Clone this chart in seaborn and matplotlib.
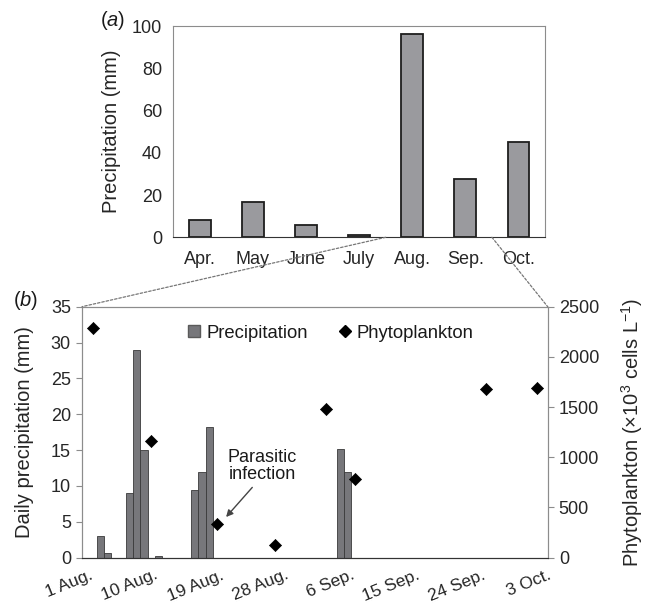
import pandas as pd
import numpy as np
import matplotlib
matplotlib.use("Agg")
import matplotlib.pyplot as plt
from matplotlib.patches import ConnectionPatch
from matplotlib.lines import Line2D
from matplotlib.transforms import ScaledTranslation
import seaborn as sns

# monthly precipitation (panel a)
months = ["Apr.", "May", "June", "July", "Aug.", "Sep.", "Oct."]
monthly_mm = [8.0, 16.9, 5.8, 0.9, 96.4, 27.4, 45.0]

# daily precipitation (panel b)
rain_dates = ["3 Aug", "4 Aug", "7 Aug", "8 Aug", "9 Aug", "11 Aug",
              "16 Aug", "17 Aug", "18 Aug", "5 Sep", "6 Sep"]
rain_mm = [3.0, 0.6, 9.0, 29.0, 15.0, 0.3, 9.4, 11.9, 18.2, 15.2, 12.0]

# phytoplankton density (x10^3 cells/L)
phyto_dates = ["2 Aug", "10 Aug", "19 Aug", "27 Aug", "3 Sep", "7 Sep",
               "25 Sep", "2 Oct"]
phyto_cells = [2290, 1160, 340, 126, 1480, 780, 1680, 1695]

tick_labels = ["1 Aug.", "10 Aug.", "19 Aug.", "28 Aug.", "6 Sep.",
               "15 Sep.", "24 Sep.", "3 Oct."]

start = pd.Timestamp("2010-08-01")
def day_offset(dates):
    return [(pd.Timestamp(d + " 2010") - start).days for d in dates]

rain = pd.DataFrame({"day": np.array(day_offset(rain_dates)) + 0.5, "mm": rain_mm})
phyto = pd.DataFrame({"day": np.array(day_offset(phyto_dates)) + 0.5, "cells": phyto_cells})
monthly = pd.DataFrame({"month": months, "mm": monthly_mm})

sns.set_style("white")
plt.rcParams["font.family"] = ["Liberation Sans", "DejaVu Sans"]
plt.rcParams["mathtext.fontset"] = "custom"
plt.rcParams["mathtext.rm"] = "Liberation Sans"
plt.rcParams["mathtext.it"] = "Liberation Sans:italic"
plt.rcParams["text.color"] = "#1a1a1a"

TICK = 13
LAB = 14.5

fig = plt.figure(figsize=(6.51, 6.05), dpi=100)
ax_a = fig.add_axes([0.2662, 0.6078, 0.5710, 0.3492])
ax_b = fig.add_axes([0.1260, 0.0782, 0.7153, 0.4149])

frame = "#8c8c8c"

# ---- panel (a)
sns.barplot(data=monthly, x="month", y="mm", ax=ax_a, color="#9a9a9e",
            edgecolor="#1e1e1e", linewidth=1.3, width=0.41, saturation=1)
ax_a.set_xlim(-0.5, 6.5)
ax_a.set_ylim(0, 100)
ax_a.set_yticks([0, 20, 40, 60, 80, 100])
ax_a.set_xlabel("")
ax_a.set_ylabel("Precipitation (mm)", fontsize=LAB, labelpad=8)
ax_a.set_xticks(np.arange(-0.5, 7, 1), minor=False)
ax_a.set_xticklabels([])
ax_a.set_xticks(np.arange(7), minor=True)
ax_a.set_xticklabels(months, minor=True)
ax_a.tick_params(axis="x", which="major", direction="inout", length=8, color=frame)
ax_a.tick_params(axis="x", which="minor", length=0, pad=10, labelsize=TICK)
ax_a.tick_params(axis="y", direction="out", length=4, color=frame, labelsize=TICK, pad=4)
for s in ["top", "right", "left"]:
    ax_a.spines[s].set_color(frame)
ax_a.spines["bottom"].set_color("#333333")

fig.text(0.153, 0.966, "($\\it{a}$)", fontsize=LAB, va="center", ha="left")

# ---- panel (b)
sns.barplot(data=rain, x="day", y="mm", ax=ax_b, native_scale=True, width=1,
            color="#77777b", edgecolor="#3a3a3a", linewidth=0.6, saturation=1)
ax_b.set_xlim(0, 64)
ax_b.set_ylim(0, 35)
ax_b.set_yticks(range(0, 36, 5))
ax_b.set_xlabel("")
ax_b.set_ylabel("Daily precipitation (mm)", fontsize=LAB, labelpad=12)
ax_b.set_xticks(range(0, 64, 9))
ax_b.set_xticklabels(tick_labels, rotation=22, ha="right", va="top",
                     rotation_mode="anchor")
ax_b.set_xticks(range(0, 65), minor=True)
ax_b.tick_params(axis="x", which="major", direction="out", length=5, color="#444444",
                 labelsize=12.5, pad=2)
ax_b.tick_params(axis="x", which="minor", direction="out", length=3, color="#666666")
ax_b.tick_params(axis="y", direction="out", length=4, color=frame, labelsize=TICK, pad=4)
shift = ScaledTranslation(0.07, 0, fig.dpi_scale_trans)
for lbl in ax_b.get_xticklabels():
    lbl.set_transform(lbl.get_transform() + shift)

ax_c = ax_b.twinx()
sns.scatterplot(data=phyto, x="day", y="cells", ax=ax_c, marker="D", color="black",
                s=38, edgecolor="black")
ax_c.set_ylim(0, 2500)
ax_c.set_yticks(range(0, 2501, 500))
ax_c.set_ylabel("Phytoplankton (\u00d710$^3$ cells L$^{-1}$)", fontsize=LAB, labelpad=14)
ax_c.tick_params(axis="y", direction="out", length=4, color=frame, labelsize=TICK, pad=4)
for a in (ax_b, ax_c):
    for s in ["top", "right", "left"]:
        a.spines[s].set_color(frame)
    a.spines["bottom"].set_color("#333333")

handles = [Line2D([], [], marker="s", color="#77777b", markeredgecolor="#5a5a5a",
                  linestyle="none", markersize=9),
           Line2D([], [], marker="D", color="black", linestyle="none", markersize=6)]
ax_c.legend(handles, ["Precipitation", "Phytoplankton"], loc="upper left",
            bbox_to_anchor=(0.191, 0.995), ncol=2, frameon=False, fontsize=13.3,
            handlelength=0.7, handletextpad=0.3, columnspacing=1.65)

ax_c.text(24.8, 915, "Parasitic\ninfection", ha="center", va="center", fontsize=13,
          linespacing=1.0)
ax_c.annotate("", xy=(19.8, 405), xytext=(23.4, 700),
              arrowprops=dict(arrowstyle="-|>", color="#444444", lw=1,
                              shrinkA=0, shrinkB=0, mutation_scale=10))

fig.text(0.020, 0.503, "($\\it{b}$)", fontsize=LAB, va="center", ha="left")

# dashed zoom lines from August in panel (a) to panel (b)
for xa, xb in [(3.5, 0.0), (5.5, 1.0)]:
    con = ConnectionPatch(xyA=(xa, 0), coordsA=ax_a.transData,
                          xyB=(xb, 1.0), coordsB=ax_b.transAxes,
                          linestyle=(0, (2, 1.5)), color="#777777", lw=0.9)
    fig.add_artist(con)

fig.savefig("out.png", dpi=100)
